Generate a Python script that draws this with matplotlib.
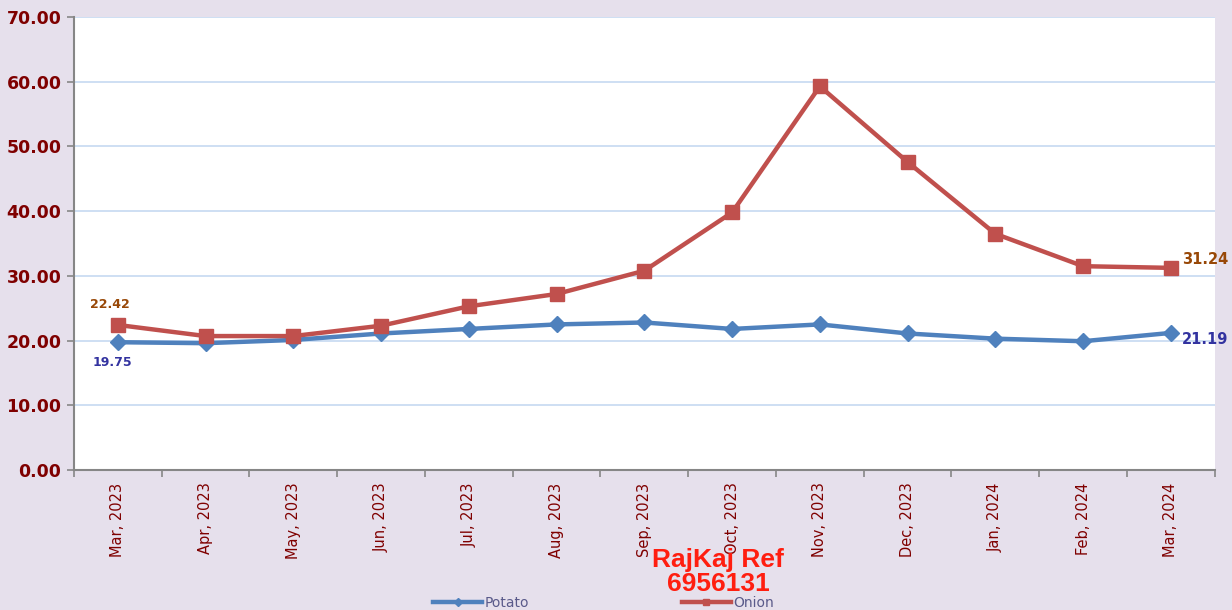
import numpy as np
import matplotlib.pyplot as plt
from matplotlib.ticker import FixedLocator, NullFormatter

months = ['Mar, 2023', 'Apr, 2023', 'May, 2023', 'Jun, 2023', 'Jul, 2023', 'Aug, 2023',
          'Sep, 2023', 'Oct, 2023', 'Nov, 2023', 'Dec, 2023', 'Jan, 2024', 'Feb, 2024',
          'Mar, 2024']
potato = [19.75, 19.6, 20.1, 21.1, 21.8, 22.5, 22.8, 21.8, 22.5, 21.1, 20.3, 19.9, 21.19]
onion = [22.42, 20.7, 20.7, 22.3, 25.3, 27.2, 30.8, 39.8, 59.3, 47.6, 36.5, 31.5, 31.24]

bg = '#E6E0EC'
fig = plt.figure(figsize=(12.32, 6.1), dpi=100, facecolor=bg)
ax = fig.add_axes([0.060, 0.2295, 0.926, 0.7425])
ax.set_facecolor('white')

x = np.arange(len(months))
ax.plot(x, potato, color='#4F81BD', lw=3.2, marker='D', ms=8, label='Potato', zorder=3)
ax.plot(x, onion, color='#C0504D', lw=3.2, marker='s', ms=10, label='Onion', zorder=4)

ax.set_xlim(-0.5, len(months) - 0.5)
ax.set_ylim(0, 70)
ax.set_yticks(np.arange(0, 71, 10))
ax.set_yticklabels([f'{v:.2f}' for v in np.arange(0, 71, 10)], fontsize=12.5,
                   fontweight='bold', color='#7F0000')
ax.yaxis.grid(True, color='#C6D9F1', lw=1.2)
ax.set_axisbelow(True)

ax.set_xticks(x)
ax.set_xticklabels(months, rotation=90, fontsize=10.5, color='#7F0000')
ax.tick_params(axis='x', length=0, pad=9)
ax.xaxis.set_minor_locator(FixedLocator(np.arange(-0.5, len(months), 1)))
ax.xaxis.set_minor_formatter(NullFormatter())
ax.tick_params(axis='x', which='minor', length=5, color='#868686', width=1.2)
ax.tick_params(axis='y', length=5, color='#868686', width=1.2, pad=4)

for s in ['top', 'right']:
    ax.spines[s].set_visible(False)
for s in ['left', 'bottom']:
    ax.spines[s].set_color('#868686')
    ax.spines[s].set_linewidth(1.5)

ax.annotate(f'{onion[0]:.2f}', (x[0], onion[0]), xytext=(-6, 10), textcoords='offset points',
            ha='center', va='bottom', fontsize=9, fontweight='bold', color='#984807')
ax.annotate(f'{potato[0]:.2f}', (x[0], potato[0]), xytext=(-4, -10), textcoords='offset points',
            ha='center', va='top', fontsize=9, fontweight='bold', color='#3333A0')
ax.annotate(f'{onion[-1]:.2f}', (x[-1], onion[-1]), xytext=(8, 6), textcoords='offset points',
            ha='left', va='center', fontsize=10.5, fontweight='bold', color='#984807')
ax.annotate(f'{potato[-1]:.2f}', (x[-1], potato[-1]), xytext=(8, -5), textcoords='offset points',
            ha='left', va='center', fontsize=10.5, fontweight='bold', color='#3333A0')

fig.legend(loc='center', bbox_to_anchor=(0.49, 0.012), ncol=2, frameon=False,
           fontsize=10, labelcolor='#5A5A8A', columnspacing=11, handlelength=3.5,
           handletextpad=0.2, markerscale=0.5)

fig.text(0.583, 0.062, 'RajKaj Ref\n6956131', ha='center', va='center', fontsize=19,
         fontweight='bold', color='#FF1E10', family='Liberation Sans', linespacing=1.0)

fig.savefig('out.png', dpi=100, facecolor=bg)
